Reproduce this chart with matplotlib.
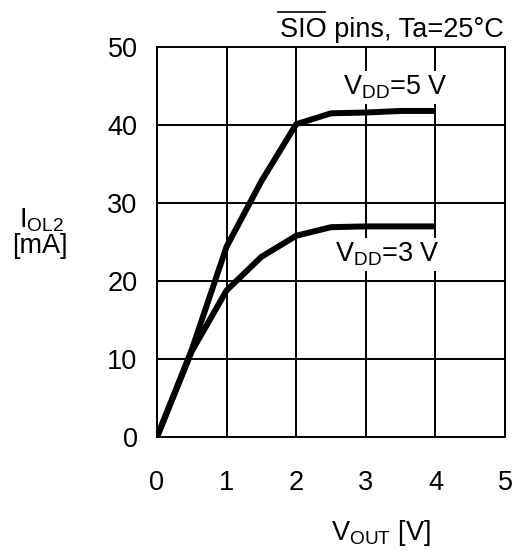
import matplotlib
matplotlib.use("Agg")
import matplotlib.pyplot as plt
from matplotlib.lines import Line2D

plt.rcParams['font.family'] = ['Liberation Sans', 'DejaVu Sans']
plt.rcParams['mathtext.fontset'] = 'custom'
plt.rcParams['mathtext.rm'] = 'Liberation Sans'
plt.rcParams['mathtext.it'] = 'Liberation Sans'

# curve data
v_out = [0, 0.5, 1, 1.5, 2, 2.5, 3, 3.5, 4]
i_5v = [0, 11.2, 24.4, 32.8, 40.1, 41.5, 41.6, 41.8, 41.8]
i_3v = [0, 11.0, 18.8, 23.1, 25.8, 26.9, 27.0, 27.0, 27.0]
x_ticks = [0, 1, 2, 3, 4, 5]
y_ticks = [0, 10, 20, 30, 40, 50]

fs = 19.5
W, H = 517, 551

fig = plt.figure(figsize=(W / 100, H / 100), dpi=100)
ax = fig.add_axes([157 / W, 114 / H, 348 / W, 390 / H])

ax.plot(v_out, i_5v, color='black', lw=4.3, solid_capstyle='butt', zorder=3)
ax.plot(v_out, i_3v, color='black', lw=4.3, solid_capstyle='butt', zorder=3)

ax.set_xlim(0, 5)
ax.set_ylim(0, 50)
ax.set_xticks(x_ticks)
ax.set_yticks(y_ticks)
ax.tick_params(labelsize=fs, length=0)
ax.tick_params(axis='x', pad=24)
ax.tick_params(axis='y', pad=14)
ax.grid(True, color='black', lw=1.4)
for s in ax.spines.values():
    s.set_linewidth(1.4)

box = dict(facecolor='white', edgecolor='none', pad=2)
ax.text(3.43, 43.85, r'V$_{\mathrm{DD}}$=5 V', fontsize=fs, ha='center', va='baseline',
        bbox=box, zorder=4)
ax.text(3.31, 22.47, r'V$_{\mathrm{DD}}$=3 V', fontsize=fs, ha='center', va='baseline',
        bbox=box, zorder=4)

# title, with the bar over SIO drawn by hand
fig.text(504 / W, 1 - 37 / H, 'SIO pins, Ta=25°C', fontsize=fs, ha='right', va='baseline')
fig.add_artist(Line2D([278 / W, 325 / W], [1 - 12 / H, 1 - 12 / H],
                      transform=fig.transFigure, color='black', lw=1.2))

fig.text(41 / W, 1 - 228 / H, r'I$_{\mathrm{OL2}}$', fontsize=fs, ha='center', va='baseline')
fig.text(40 / W, 1 - 253 / H, '[mA]', fontsize=fs, ha='center', va='baseline')
fig.text(381 / W, 1 - 540 / H, r'V$_{\mathrm{OUT}}$ [V]', fontsize=fs, ha='center', va='baseline')

fig.savefig("out.png", dpi=100)
